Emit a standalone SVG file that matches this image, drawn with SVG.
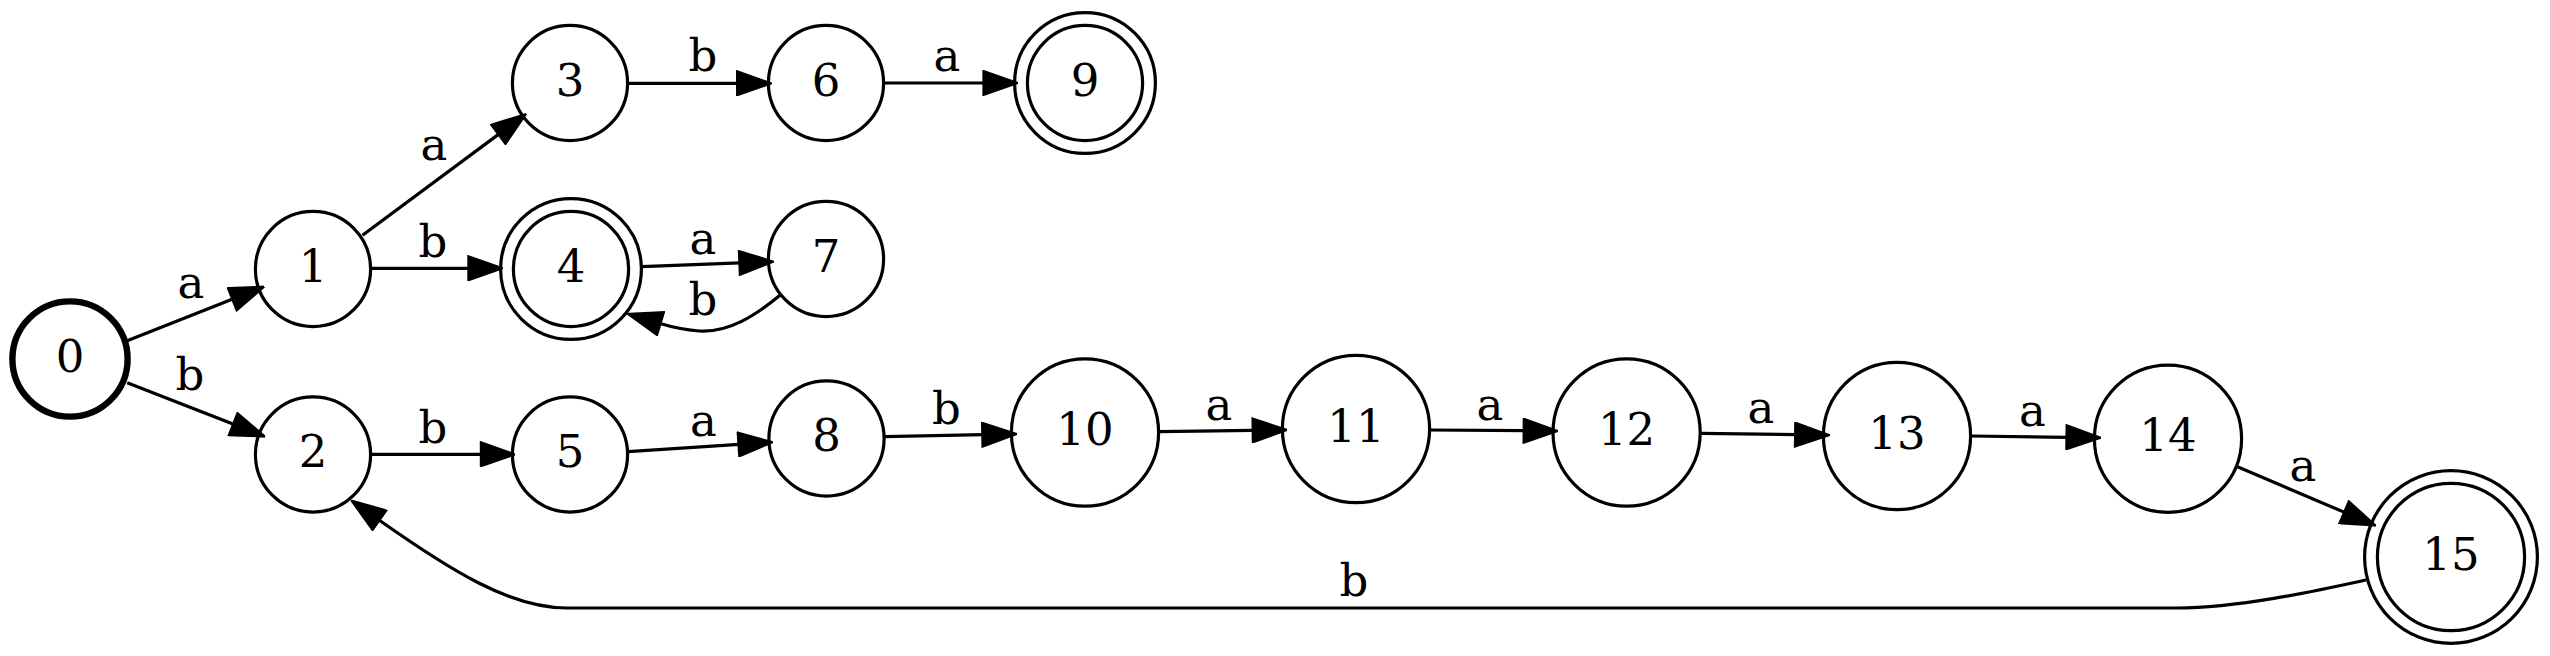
<svg xmlns="http://www.w3.org/2000/svg" width="2550" height="656" viewBox="0 0 2550 656">
<style>
.n{fill:none;stroke:#000;stroke-width:3.2}
.b{fill:none;stroke:#000;stroke-width:6.4}
.t{font-family:"DejaVu Serif",serif;font-size:45px;text-anchor:middle;fill:#000}
.e{fill:none;stroke:#000;stroke-width:3.2;marker-end:url(#ah)}
</style>
<defs>
<marker id="ah" markerUnits="userSpaceOnUse" viewBox="-2 -13 36 26" refX="0" refY="0" markerWidth="36" markerHeight="26" orient="auto">
<path d="M0,-11.2 L32,0 L0,11.2 Z" fill="#000" stroke="#000" stroke-width="3.2"/>
</marker>
</defs>
<rect width="2550" height="656" fill="#fff"/>
<g id="edges">
<path class="e" d="M127.2,340.7 L232.8,299.1"/>
<text class="t" x="191" y="298">a</text>
<path class="e" d="M127.2,382.7 L233.6,424.3"/>
<text class="t" x="190" y="390">b</text>
<path class="e" d="M362.5,235.3 L498.8,134.1"/>
<text class="t" x="434" y="160">a</text>
<path class="e" d="M371.4,268.3 L468.9,268.3"/>
<text class="t" x="433" y="257">b</text>
<path class="e" d="M628,83.3 L737.6,83.3"/>
<text class="t" x="703" y="71">b</text>
<path class="e" d="M883.5,83 L984,83"/>
<text class="t" x="947" y="71">a</text>
<path class="e" d="M641.5,266.7 L739.9,262.9"/>
<text class="t" x="703" y="254">a</text>
<path class="e" d="M780.3,295 C755,316 728,333 699,331 C688,330 675,328 660,323.5"/>
<text class="t" x="703" y="315">b</text>
<path class="e" d="M371.4,454.3 L481.4,454.3"/>
<text class="t" x="433" y="443">b</text>
<path class="e" d="M628,451.7 L739,444.4"/>
<text class="t" x="703.5" y="436">a</text>
<path class="e" d="M884.7,436.7 L982.8,434.7"/>
<text class="t" x="946.5" y="424">b</text>
<path class="e" d="M1159.2,431.7 L1253.2,430.4"/>
<text class="t" x="1219" y="420">a</text>
<path class="e" d="M1429.6,430 L1524.2,430.7"/>
<text class="t" x="1490" y="420">a</text>
<path class="e" d="M1700.7,433.3 L1795.6,434.6"/>
<text class="t" x="1761" y="423">a</text>
<path class="e" d="M1970.6,436 L2067,437.3"/>
<text class="t" x="2032.5" y="426">a</text>
<path class="e" d="M2237.5,466.7 L2344.6,512.4"/>
<text class="t" x="2303" y="481">a</text>
<path class="e" d="M2366,580 C2320,590 2240,608 2177,608 L567,608 C510,608 450,570 379,520"/>
<text class="t" x="1354" y="596">b</text>
</g>
<g id="n0"><circle class="b" cx="70" cy="359" r="57.6"/><text class="t" x="70" y="371.5">0</text></g>
<g id="n1"><circle class="n" cx="313" cy="269" r="57.6"/><text class="t" x="313" y="281.5">1</text></g>
<g id="n2"><circle class="n" cx="313" cy="454.5" r="57.6"/><text class="t" x="313" y="467">2</text></g>
<g id="n3"><circle class="n" cx="570" cy="83" r="57.6"/><text class="t" x="570" y="95.5">3</text></g>
<g id="n4"><circle class="n" cx="571" cy="269" r="57.6"/><circle class="n" cx="571" cy="269" r="70.4"/><text class="t" x="571" y="281.5">4</text></g>
<g id="n5"><circle class="n" cx="570" cy="454.5" r="57.6"/><text class="t" x="570" y="467">5</text></g>
<g id="n6"><circle class="n" cx="826" cy="83" r="57.6"/><text class="t" x="826" y="95.5">6</text></g>
<g id="n7"><circle class="n" cx="826" cy="259" r="57.6"/><text class="t" x="826" y="271.5">7</text></g>
<g id="n8"><circle class="n" cx="826.5" cy="438.5" r="57.6"/><text class="t" x="826.5" y="451">8</text></g>
<g id="n9"><circle class="n" cx="1085" cy="83" r="57.6"/><circle class="n" cx="1085" cy="83" r="70.4"/><text class="t" x="1085" y="95.5">9</text></g>
<g id="n10"><circle class="n" cx="1085" cy="432.5" r="73.6"/><text class="t" x="1085" y="445">10</text></g>
<g id="n11"><circle class="n" cx="1356" cy="429" r="73.6"/><text class="t" x="1356" y="441.5">11</text></g>
<g id="n12"><circle class="n" cx="1626.6" cy="432.5" r="73.6"/><text class="t" x="1626.6" y="445">12</text></g>
<g id="n13"><circle class="n" cx="1897" cy="436" r="73.6"/><text class="t" x="1897" y="448.5">13</text></g>
<g id="n14"><circle class="n" cx="2168" cy="438.7" r="73.6"/><text class="t" x="2168" y="451.2">14</text></g>
<g id="n15"><circle class="n" cx="2451" cy="557" r="73.6"/><circle class="n" cx="2451" cy="557" r="86.4"/><text class="t" x="2451" y="569.5">15</text></g>
</svg>
